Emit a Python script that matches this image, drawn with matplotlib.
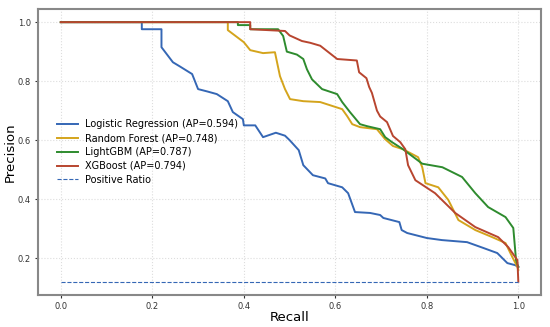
import matplotlib
matplotlib.use("Agg")
import matplotlib.pyplot as plt

# recall / precision points
lr_recall = [0.0, 0.177, 0.177, 0.22, 0.22, 0.245, 0.26, 0.287, 0.30, 0.32, 0.341, 0.365,
             0.376, 0.398, 0.40, 0.425, 0.442, 0.47, 0.49, 0.50, 0.52, 0.53, 0.551, 0.578,
             0.584, 0.615, 0.628, 0.643, 0.676, 0.698, 0.705, 0.74, 0.745, 0.757, 0.80,
             0.833, 0.888, 0.924, 0.954, 0.976, 0.993, 1.0]
lr_precision = [1.0, 1.0, 0.976, 0.976, 0.915, 0.864, 0.85, 0.824, 0.773, 0.765, 0.756, 0.732,
                0.695, 0.671, 0.65, 0.65, 0.61, 0.625, 0.615, 0.60, 0.566, 0.515, 0.481, 0.47,
                0.454, 0.44, 0.42, 0.356, 0.353, 0.346, 0.336, 0.322, 0.295, 0.285, 0.268,
                0.261, 0.254, 0.234, 0.217, 0.183, 0.176, 0.17]

rf_recall = [0.0, 0.365, 0.365, 0.40, 0.414, 0.442, 0.468, 0.479, 0.49, 0.501, 0.53, 0.567,
             0.595, 0.615, 0.626, 0.637, 0.654, 0.691, 0.709, 0.726, 0.748, 0.781, 0.79,
             0.797, 0.825, 0.847, 0.869, 0.906, 0.943, 0.972, 0.987, 0.998, 1.0]
rf_precision = [1.0, 1.0, 0.973, 0.932, 0.905, 0.895, 0.898, 0.817, 0.773, 0.739, 0.732, 0.729,
                0.715, 0.705, 0.681, 0.654, 0.644, 0.637, 0.603, 0.58, 0.569, 0.542, 0.508,
                0.454, 0.44, 0.397, 0.329, 0.295, 0.271, 0.251, 0.203, 0.17, 0.16]

lgb_recall = [0.0, 0.387, 0.387, 0.414, 0.414, 0.475, 0.486, 0.494, 0.516, 0.53, 0.538, 0.549,
              0.571, 0.604, 0.615, 0.632, 0.654, 0.67, 0.698, 0.709, 0.724, 0.748, 0.79,
              0.834, 0.877, 0.906, 0.934, 0.972, 0.989, 0.995, 1.0]
lgb_precision = [1.0, 1.0, 0.99, 0.99, 0.976, 0.976, 0.953, 0.90, 0.89, 0.875, 0.84, 0.806,
                 0.773, 0.756, 0.729, 0.695, 0.654, 0.647, 0.637, 0.61, 0.593, 0.569, 0.52,
                 0.508, 0.475, 0.42, 0.373, 0.339, 0.302, 0.193, 0.17]

xgb_recall = [0.0, 0.414, 0.414, 0.49, 0.50, 0.527, 0.545, 0.567, 0.604, 0.647, 0.652, 0.668,
              0.674, 0.68, 0.691, 0.698, 0.713, 0.726, 0.742, 0.753, 0.759, 0.775, 0.818,
              0.862, 0.906, 0.956, 0.978, 0.998, 1.0]
xgb_precision = [1.0, 1.0, 0.976, 0.97, 0.955, 0.936, 0.93, 0.92, 0.875, 0.87, 0.83, 0.81,
                 0.78, 0.76, 0.70, 0.68, 0.661, 0.614, 0.593, 0.569, 0.515, 0.464, 0.42,
                 0.353, 0.305, 0.271, 0.237, 0.193, 0.12]

labels = ["Logistic Regression (AP=0.594)", "Random Forest (AP=0.748)",
          "LightGBM (AP=0.787)", "XGBoost (AP=0.794)"]
colors = ["#3567b5", "#d4a41c", "#2e8b2e", "#b8452f"]
positive_ratio = 0.119

fig = plt.figure(figsize=(5.5, 3.27), dpi=100)
ax = fig.add_axes([0.069, 0.098, 0.915, 0.874])

curves = [(lr_recall, lr_precision), (rf_recall, rf_precision),
          (lgb_recall, lgb_precision), (xgb_recall, xgb_precision)]
for (r, p), lab, c in zip(curves, labels, colors):
    ax.plot(r, p, color=c, lw=1.4, label=lab)

ax.plot([0, 1], [positive_ratio, positive_ratio], ls="--", color="#3567b5", lw=0.8,
        label="Positive Ratio")

ax.set_xlabel("Recall", fontsize=9.5, labelpad=0)
ax.set_ylabel("Precision", fontsize=9.5, labelpad=1)
ax.tick_params(labelsize=6, colors="#333333", length=2, pad=3)
ax.set_xticks([0.0, 0.2, 0.4, 0.6, 0.8, 1.0])
ax.set_yticks([0.2, 0.4, 0.6, 0.8, 1.0])
ax.grid(True, ls=":", color="#dddddd", lw=0.8)
for s in ax.spines.values():
    s.set_color("#888888")
    s.set_linewidth(1.5)

ax.legend(loc="center left", bbox_to_anchor=(0.02, 0.5), frameon=False, fontsize=7,
          handlelength=2.2, handletextpad=0.7, labelspacing=0.4)

fig.savefig("out.png", dpi=100)
